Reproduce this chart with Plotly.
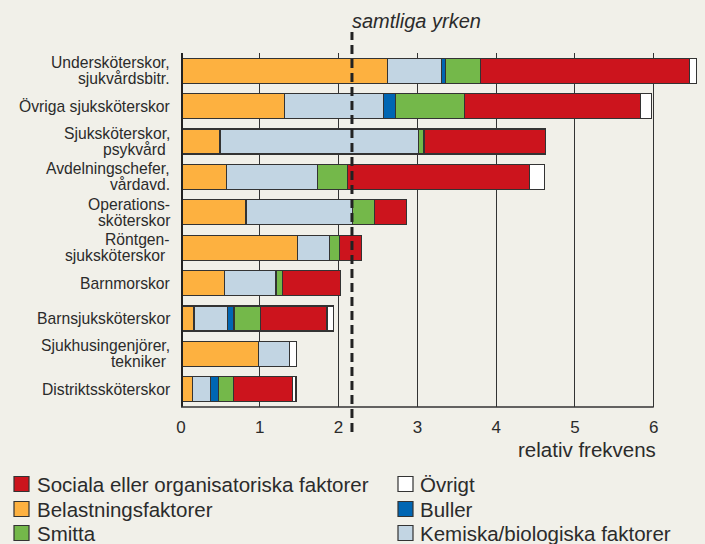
import plotly.graph_objects as go

categories = [
    "Undersköterskor,\nsjukvårdsbitr.",
    "Övriga sjuksköterskor",
    "Sjuksköterskor,\npsykvård\u00a0",
    "Avdelningschefer,\nvårdavd.",
    "Operations-\nsköterskor",
    "Röntgen-\nsjuksköterskor\u00a0",
    "Barnmorskor",
    "Barnsjuksköterskor",
    "Sjukhusingenjörer,\ntekniker\u00a0",
    "Distriktssköterskor",
]

belastning = [2.625, 1.317, 0.495, 0.581, 0.824, 1.482, 0.551, 0.166, 0.980, 0.144]
kemiska    = [0.679, 1.256, 2.520, 1.152, 1.355, 0.403, 0.654, 0.420, 0.394, 0.234]
buller     = [0.048, 0.151, 0.000, 0.000, 0.000, 0.000, 0.000, 0.086, 0.000, 0.095]
smitta     = [0.450, 0.870, 0.069, 0.377, 0.273, 0.125, 0.087, 0.338, 0.000, 0.191]
sociala    = [2.654, 2.234, 1.541, 2.316, 0.411, 0.277, 0.735, 0.844, 0.000, 0.753]
ovrigt     = [0.087, 0.143, 0.000, 0.186, 0.000, 0.000, 0.000, 0.078, 0.095, 0.043]

samtliga_yrken = 2.17
x_ticks = [0, 1, 2, 3, 4, 5, 6]

series = [
    ("Belastningsfaktorer", belastning, "#FDB140"),
    ("Kemiska/biologiska faktorer", kemiska, "#C2D5E3"),
    ("Buller", buller, "#0066B3"),
    ("Smitta", smitta, "#74B84A"),
    ("Sociala eller organisatoriska faktorer", sociala, "#CC141D"),
    ("Övrigt", ovrigt, "#FFFFFF"),
]
colors = {name: c for name, _, c in series}

# legend layout: two columns, three rows
legend_cols = [
    ["Sociala eller organisatoriska faktorer", "Belastningsfaktorer", "Smitta"],
    ["Övrigt", "Buller", "Kemiska/biologiska faktorer"],
]

W, H = 705, 544
ML, MR, MT, MB = 181, 4, 53, 137
PW, PH = W - ML - MR, H - MT - MB
BG = "#F1F0E9"
TXT = "#2B2B2B"
FONT = "Liberation Sans, Arial, sans-serif"

def px_x(p):
    return (p - ML) / PW

def px_y(p):
    return (H - MB - p) / PH

fig = go.Figure()
for name, vals, col in series:
    fig.add_trace(go.Bar(
        y=categories, x=vals, name=name, orientation="h",
        marker=dict(color=col, line=dict(color="#333333", width=1.2)),
        width=0.71, showlegend=False,
        hovertemplate=name + ": %{x}<extra></extra>",
    ))

shapes = []
# left thick axis
shapes.append(dict(type="line", xref="x", yref="paper", x0=0, x1=0, y0=0, y1=1,
                   line=dict(color="#222222", width=4), layer="above"))
# bottom axis from 0 to 6
shapes.append(dict(type="line", xref="x", yref="paper", x0=0, x1=x_ticks[-1], y0=0, y1=0,
                   line=dict(color="#333333", width=1.5), layer="above"))
# dashed reference line
shapes.append(dict(type="line", xref="x", yref="paper", x0=samtliga_yrken, x1=samtliga_yrken,
                   y0=px_y(432), y1=px_y(32),
                   line=dict(color="#222222", width=3, dash="9px,5px"), layer="above"))

annotations = []
# category labels (split into lines)
line_gap = 16
for cat in categories:
    lines = cat.split("\n")
    n = len(lines)
    for i, ln in enumerate(lines):
        off = ((n - 1) / 2 - i) * line_gap
        annotations.append(dict(
            text=ln, xref="paper", yref="y", x=0, y=cat, xshift=-9, yshift=off,
            xanchor="right", yanchor="middle", showarrow=False,
            font=dict(family=FONT, size=15.7, color=TXT)))

annotations.append(dict(
    text="<i>samtliga yrken</i>", xref="x", yref="paper", x=samtliga_yrken, y=px_y(20.5),
    xanchor="left", yanchor="middle", showarrow=False, xshift=-2,
    font=dict(family=FONT, size=20, color=TXT)))
annotations.append(dict(
    text="relativ frekvens", xref="x", yref="paper", x=x_ticks[-1], y=px_y(449.5),
    xanchor="right", yanchor="middle", showarrow=False, xshift=4,
    font=dict(family=FONT, size=20.5, color=TXT)))

# manual legend
col_sq_x = [14, 398]
col_txt_x = [35, 418]
row_y = [484, 509, 533]
sq = 15
for ci, col in enumerate(legend_cols):
    for ri, name in enumerate(col):
        yc = row_y[ri]
        shapes.append(dict(type="rect", xref="paper", yref="paper",
                           x0=px_x(col_sq_x[ci]), x1=px_x(col_sq_x[ci] + sq),
                           y0=px_y(yc + sq / 2), y1=px_y(yc - sq / 2),
                           fillcolor=colors[name], line=dict(color="#333333", width=1.2),
                           layer="above"))
        annotations.append(dict(
            text=name, xref="paper", yref="paper", x=px_x(col_txt_x[ci]), y=px_y(yc),
            xanchor="left", yanchor="middle", showarrow=False,
            font=dict(family=FONT, size=20.5, color=TXT)))

fig.update_layout(
    width=W, height=H, barmode="stack",
    margin=dict(l=ML, r=MR, t=MT, b=MB, pad=0),
    paper_bgcolor=BG, plot_bgcolor=BG,
    showlegend=False, bargap=0.29,
    shapes=shapes, annotations=annotations,
    font=dict(family=FONT, color=TXT),
    xaxis=dict(range=[0, 6.6], tickvals=x_ticks, ticktext=[str(v) for v in x_ticks],
               showgrid=True, gridcolor="#333333", gridwidth=1.2, zeroline=False,
               showline=False, ticks="outside", ticklen=5, tickcolor="rgba(0,0,0,0)",
               tickfont=dict(family=FONT, size=17, color=TXT), fixedrange=True),
    yaxis=dict(categoryorder="array", categoryarray=categories, range=[9.5, -0.5],
               showticklabels=False, showgrid=False, zeroline=False, showline=False,
               ticks="", fixedrange=True),
)

fig.write_html("out.html", config={"displayModeBar": False},
               post_script="document.body.style.margin='0';document.body.style.background='" + BG + "';")
